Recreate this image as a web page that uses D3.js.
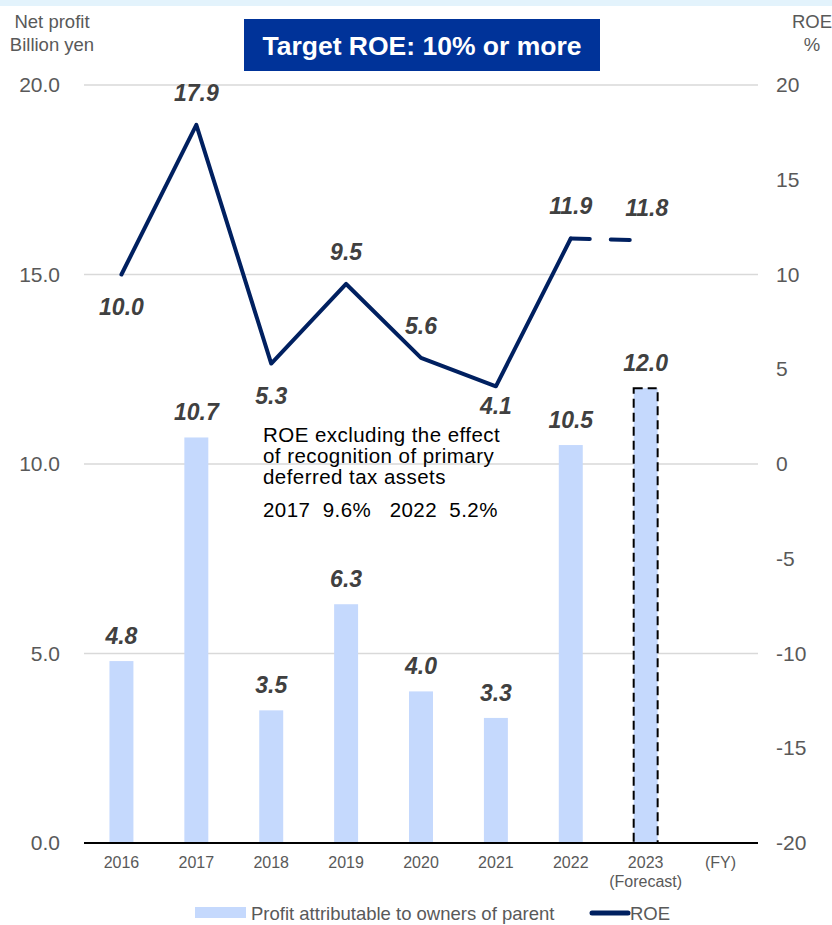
<!DOCTYPE html>
<html>
<head>
<meta charset="utf-8">
<script src="https://cdn.jsdelivr.net/npm/d3@7/dist/d3.min.js"></script>
<style>
  html, body { margin: 0; padding: 0; background: #fff; }
  svg { display: block; font-family: Arial, "Liberation Sans", sans-serif; }
</style>
</head>
<body>
<svg id="chart" width="832" height="925"></svg>
<script>
// Fiscal years (last slot is the "(FY)" unit marker)
const years = ["2016", "2017", "2018", "2019", "2020", "2021", "2022", "2023", "(FY)"];
// Net profit attributable to owners of parent, billion yen
const profit = [4.8, 10.7, 3.5, 6.3, 4.0, 3.3, 10.5, 12.0];
// ROE, %
const roe = [10.0, 17.9, 5.3, 9.5, 5.6, 4.1, 11.9, 11.8];
const leftTicks = [0, 5, 10, 15, 20];
const rightTicks = [-20, -15, -10, -5, 0, 5, 10, 15, 20];
const forecastYear = "2023";

const svg = d3.select("#chart");
const W = 832, H = 925;
const m = { left: 84, right: 758, top: 85, bottom: 843 };

const navy = "#002060";
const barFill = "#c5d9fd";
const labelGray = "#404040";
const axisGray = "#595959";
const FONT = "Arial, 'Liberation Sans', sans-serif";

// light band across the top edge
svg.append("rect").attr("x", 0).attr("y", 0).attr("width", W).attr("height", 6).attr("fill", "#e3f3fc");

const x = d3.scaleBand().domain(years).range([m.left, m.right]).paddingInner(0.68).paddingOuter(0.34);
const yL = d3.scaleLinear().domain([0, 20]).range([m.bottom, m.top]);
const yR = d3.scaleLinear().domain([-20, 20]).range([m.bottom, m.top]);
const cx = d => x(d) + x.bandwidth() / 2;

// gridlines
svg.append("g").selectAll("line").data(leftTicks.filter(t => t > 0)).join("line")
  .attr("x1", m.left).attr("x2", m.right)
  .attr("y1", d => yL(d)).attr("y2", d => yL(d))
  .attr("stroke", "#d9d9d9").attr("stroke-width", 1.5);

// left axis labels
const leftAxis = d3.axisLeft(yL).tickValues(leftTicks).tickFormat(d3.format(".1f")).tickSize(0).tickPadding(24);
svg.append("g").attr("transform", `translate(${m.left},0)`).call(leftAxis)
  .call(g => g.select(".domain").remove())
  .call(g => g.selectAll("text").attr("fill", axisGray).attr("font-size", 21).attr("font-family", FONT));

// right axis labels (plain hyphen for negatives)
const rightAxis = d3.axisRight(yR).tickValues(rightTicks).tickFormat(d => String(d)).tickSize(0).tickPadding(18);
svg.append("g").attr("transform", `translate(${m.right},0)`).call(rightAxis)
  .call(g => g.select(".domain").remove())
  .call(g => g.selectAll("text").attr("fill", axisGray).attr("font-size", 21).attr("font-family", FONT));

// axis titles
const titleStyle = s => s.attr("fill", axisGray).attr("font-size", 18.5).attr("text-anchor", "middle");
svg.append("text").attr("x", 52).attr("y", 28).text("Net profit").call(titleStyle);
svg.append("text").attr("x", 52).attr("y", 51).text("Billion yen").call(titleStyle);
svg.append("text").attr("x", 812).attr("y", 28).text("ROE").call(titleStyle);
svg.append("text").attr("x", 812).attr("y", 51).text("%").call(titleStyle);

// bars
const barData = profit.map((v, i) => ({ year: years[i], v }));
svg.append("g").selectAll("rect").data(barData).join("rect")
  .attr("x", d => x(d.year)).attr("width", x.bandwidth())
  .attr("y", d => yL(d.v)).attr("height", d => yL(0) - yL(d.v))
  .attr("fill", barFill)
  .attr("stroke", d => d.year === forecastYear ? "#000" : "none")
  .attr("stroke-width", 2)
  .attr("stroke-dasharray", "9,5");

// baseline
svg.append("line").attr("x1", m.left).attr("x2", m.right)
  .attr("y1", yL(0)).attr("y2", yL(0)).attr("stroke", "#000").attr("stroke-width", 2);

// bar value labels
const valStyle = s => s.attr("fill", labelGray).attr("font-size", 23).attr("font-weight", "bold")
  .attr("font-style", "italic").attr("text-anchor", "middle");
svg.append("g").selectAll("text").data(barData).join("text")
  .attr("x", d => cx(d.year)).attr("y", d => yL(d.v) - 17)
  .text(d => d3.format(".1f")(d.v)).call(valStyle);

// ROE line: solid for actuals, dashed toward the forecast
const roeData = roe.map((v, i) => ({ year: years[i], v }));
const line = d3.line().x(d => cx(d.year)).y(d => yR(d.v));
const actual = roeData.filter(d => d.year !== forecastYear);
svg.append("path").attr("d", line(actual)).attr("fill", "none")
  .attr("stroke", navy).attr("stroke-width", 4).attr("stroke-linejoin", "round").attr("stroke-linecap", "round");
svg.append("path").attr("d", line(roeData.slice(-2))).attr("fill", "none")
  .attr("stroke", navy).attr("stroke-width", 4).attr("stroke-linecap", "round")
  .attr("stroke-dasharray", "19,21");

// ROE value label offsets from the point (positive = below)
const roeOffset = { "2016": 40, "2017": -24, "2018": 40, "2019": -24, "2020": -24, "2021": 28, "2022": -24, "2023": -24 };
svg.append("g").selectAll("text").data(roeData).join("text")
  .attr("x", d => cx(d.year) + (d.year === "2023" ? 1 : 0))
  .attr("y", d => yR(d.v) + roeOffset[d.year])
  .text(d => d3.format(".1f")(d.v)).call(valStyle);

// note text
const note = svg.append("g").attr("fill", "#000").attr("font-size", 20.5).attr("letter-spacing", 0.45);
["ROE excluding the effect", "of recognition of primary", "deferred tax assets"].forEach((t, i) => {
  note.append("text").attr("x", 263).attr("y", 442 + i * 21).text(t);
});
note.append("text").attr("x", 263).attr("y", 517).attr("xml:space", "preserve").text("2017  9.6%   2022  5.2%");

// x labels
const xl = svg.append("g").attr("fill", axisGray).attr("font-size", 16).attr("text-anchor", "middle");
years.forEach(yv => {
  xl.append("text").attr("x", cx(yv)).attr("y", 868).text(yv);
});
xl.append("text").attr("x", cx(forecastYear)).attr("y", 887).text("(Forecast)");

// banner
const bx = 244, bw = 356;
svg.append("rect").attr("x", bx).attr("y", 19).attr("width", bw).attr("height", 52).attr("fill", "#003399");
svg.append("text").attr("x", bx + bw / 2).attr("y", 55).attr("text-anchor", "middle")
  .attr("fill", "#fff").attr("font-size", 26.5).attr("font-weight", "bold").text("Target ROE: 10% or more");

// legend
const lg = svg.append("g");
lg.append("rect").attr("x", 195).attr("y", 907).attr("width", 51).attr("height", 11).attr("fill", barFill);
lg.append("text").attr("x", 251).attr("y", 920).attr("fill", axisGray).attr("font-size", 18.5)
  .text("Profit attributable to owners of parent");
lg.append("line").attr("x1", 592).attr("x2", 628).attr("y1", 913).attr("y2", 913)
  .attr("stroke", navy).attr("stroke-width", 5).attr("stroke-linecap", "round");
lg.append("text").attr("x", 630).attr("y", 920).attr("fill", axisGray).attr("font-size", 18.5).text("ROE");
</script>
</body>
</html>
